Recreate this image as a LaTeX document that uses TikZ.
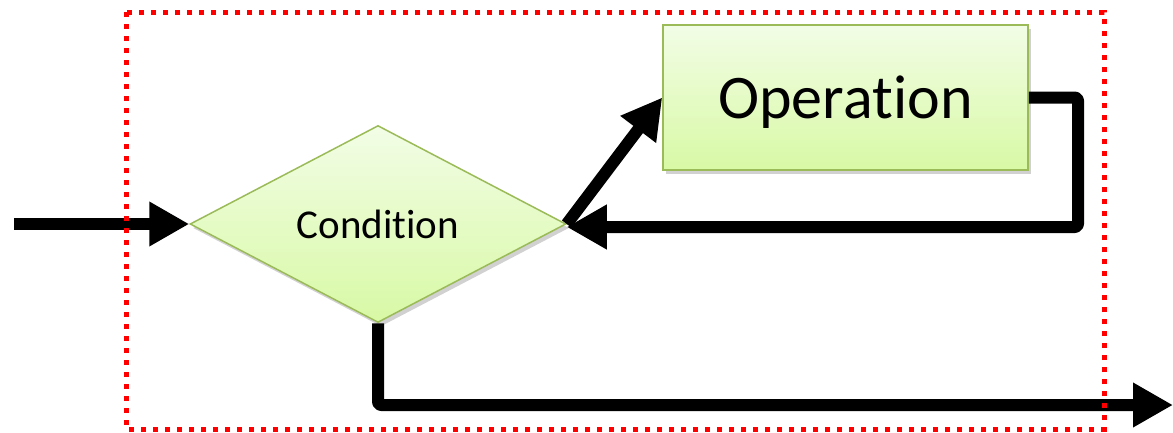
\documentclass[tikz,border=0pt]{standalone}
\usepackage{fontspec}
\setmainfont{Carlito}[Ligatures={NoCommon,NoRare,NoDiscretionary}]
\usetikzlibrary{arrows.meta,shapes.geometric,shadows}
\definecolor{gborder}{HTML}{9BBB59}
\definecolor{gtop}{HTML}{F2FDE6}
\definecolor{gbot}{HTML}{D8F9A5}
\tikzset{
  greenshape/.style={draw=gborder, line width=1.5pt, top color=gtop, bottom color=gbot,
    drop shadow={shadow xshift=3pt, shadow yshift=-4pt, opacity=0.3, fill=black!60}},
  flow/.style={draw=black, line width=12pt, line join=round, rounded corners=3pt,
    -{Triangle[length=40pt,width=42pt]}},
  frame/.style={draw=red, line width=5pt, dash pattern=on 5pt off 7pt}
}
\begin{document}
\begin{tikzpicture}[x=1pt,y=-1pt]
\useasboundingbox (0,0) rectangle (1173,432);
\node[greenshape, diamond, aspect=1.9, inner sep=0pt, minimum width=376pt, minimum height=197pt]
  (cond) at (378,224) {\fontsize{41}{48}\selectfont Condition};
\node[greenshape, rectangle, inner sep=0pt, text depth=0pt, minimum width=365pt, minimum height=145pt]
  (op) at (845.5,97.5) {\fontsize{62}{72}\selectfont Operation};
\coordinate (in) at (14,224);
\coordinate (out) at (1173,405);
\coordinate (fbcorner) at (1078,97.5);
\coordinate (fbdown) at (1078,227);
\coordinate (exitcorner) at (378,405);
\draw[flow] (in) -- (cond.west);
\draw[flow] (cond.east) -- (op.west);
\draw[flow] (op.east) -- (fbcorner) -- (fbdown) -- ([yshift=-3pt]cond.east);
\draw[flow] (cond.south) -- (exitcorner) -- (out);
\draw[frame] (126,12) rectangle (1104,429);
\end{tikzpicture}
\end{document}
